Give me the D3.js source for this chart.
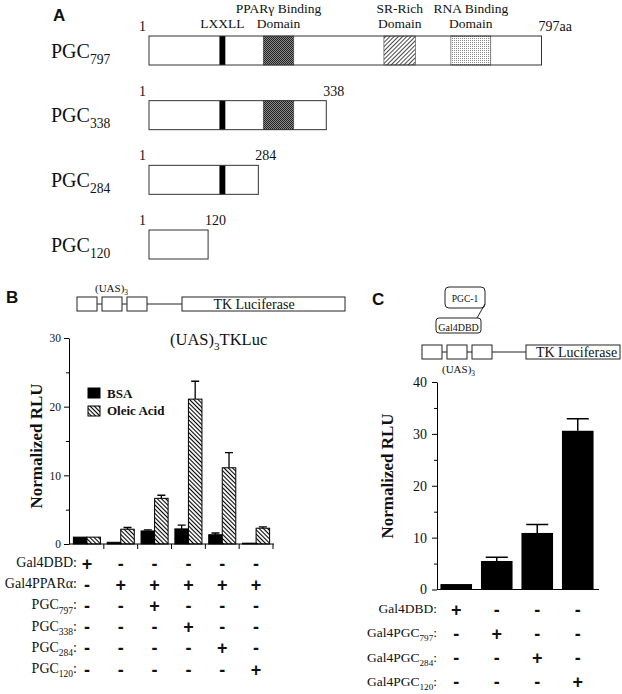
<!DOCTYPE html>
<html>
<head>
<meta charset="utf-8">
<script src="https://cdn.jsdelivr.net/npm/d3@7"></script>
<style>
body { margin: 0; background: #fff; }
svg { display: block; }
text { font-family: "Liberation Serif", "Times New Roman", serif; fill: #111; }
.panel { font-family: "Liberation Sans", Arial, sans-serif; font-weight: bold; font-size: 17px; }
.sign { font-family: "Liberation Sans", Arial, sans-serif; font-weight: bold; }
</style>
</head>
<body>
<div id="chart"></div>
<script>
// ---- panel A: PGC-1 deletion constructs ----
var constructSub = ["797", "338", "284", "120"]
var constructLength = [797, 338, 284, 120]
var constructDrawnEnd = [797, 360, 222, 120]   // the schematic is not drawn to scale
var domainLabels = [["LXXLL"], ["PPARγ Binding", "Domain"], ["SR-Rich", "Domain"], ["RNA Binding", "Domain"]]
var domainStart = [143, 232, 477, 613]
var domainEnd = [155, 294, 541, 694]

// ---- panel B: Gal4PPARa + PGC constructs ----
var bsaMean = [1.0, 0.25, 1.9, 2.2, 1.35, 0.12]
var bsaErr = [0, 0, 0.15, 0.55, 0.25, 0]
var oleicMean = [1.0, 2.15, 6.65, 21.1, 11.1, 2.3]
var oleicErr = [0, 0.25, 0.45, 2.6, 2.2, 0.2]
var bTicks = [0, 10, 20, 30]
var bMinor = [5, 15, 25]
var bRows = [[["Gal4DBD:"]], [["Gal4PPARα:"]],
  [["PGC"], ["797", 1], [":"]], [["PGC"], ["338", 1], [":"]],
  [["PGC"], ["284", 1], [":"]], [["PGC"], ["120", 1], [":"]]]
var bSigns = [
  [1, 0, 0, 0, 0, 0],
  [0, 1, 1, 1, 1, 1],
  [0, 0, 1, 0, 0, 0],
  [0, 0, 0, 1, 0, 0],
  [0, 0, 0, 0, 1, 0],
  [0, 0, 0, 0, 0, 1]]

// ---- panel C: Gal4-PGC fusions ----
var cMean = [1.05, 5.5, 10.9, 30.6]
var cErr = [0, 0.7, 1.65, 2.3]
var cTicks = [0, 10, 20, 30, 40]
var cMinor = [5, 15, 25, 35]
var cRows = [[["Gal4DBD:"]], [["Gal4PGC"], ["797", 1], [":"]],
  [["Gal4PGC"], ["284", 1], [":"]], [["Gal4PGC"], ["120", 1], [":"]]]
var cSigns = [
  [1, 0, 0, 0],
  [0, 1, 0, 0],
  [0, 0, 1, 0],
  [0, 0, 0, 1]]

var width = 622, height = 694

var svg = d3.select("#chart").append("svg")
  .attr("width", width)
  .attr("height", height)
svg.append("rect").attr("width", width).attr("height", height).attr("fill", "#fff")

// patterns
var defs = svg.append("defs")
function hatch(id, angle, gap, color, sw) {
  var p = defs.append("pattern").attr("id", id)
    .attr("patternUnits", "userSpaceOnUse")
    .attr("width", gap).attr("height", gap)
    .attr("patternTransform", "rotate(" + angle + ")")
  p.append("rect").attr("width", gap).attr("height", gap).attr("fill", "#fff")
  p.append("line").attr("x1", gap / 2).attr("x2", gap / 2).attr("y1", 0).attr("y2", gap)
    .attr("stroke", color).attr("stroke-width", sw)
}
hatch("hatchB", -45, 3, "#000", 1.1)
hatch("hatchSR", 45, 3, "#333", 0.9)

var dark = defs.append("pattern").attr("id", "dotsDark")
  .attr("patternUnits", "userSpaceOnUse").attr("width", 2).attr("height", 2)
dark.append("rect").attr("width", 2).attr("height", 2).attr("fill", "#8a8a8a")
dark.append("rect").attr("width", 1).attr("height", 1).attr("fill", "#222")
dark.append("rect").attr("x", 1).attr("y", 1).attr("width", 1).attr("height", 1).attr("fill", "#222")

var light = defs.append("pattern").attr("id", "dotsLight")
  .attr("patternUnits", "userSpaceOnUse").attr("width", 2).attr("height", 2)
light.append("rect").attr("width", 2).attr("height", 2).attr("fill", "#fff")
light.append("rect").attr("width", 1).attr("height", 1).attr("fill", "#8a8a8a")

var domainFill = ["#000", "url(#dotsDark)", "url(#hatchSR)", "url(#dotsLight)"]

// text with subscripts: parts = [[text, isSub], ...]
function rich(sel, parts, size) {
  var shift = 0
  parts.forEach(function (p) {
    var t = sel.append("tspan").text(p[0])
    var want = p[1] ? size * 0.3 : 0
    if (want !== shift) t.attr("dy", want - shift)
    shift = want
    if (p[1]) t.attr("font-size", size * 0.68)
  })
}

// panel letters
svg.append("text").attr("class", "panel").attr("x", 53).attr("y", 21).text("A")
svg.append("text").attr("class", "panel").attr("x", 6).attr("y", 303).text("B")
svg.append("text").attr("class", "panel").attr("x", 372).attr("y", 305).text("C")

// ================= panel A =================
var xA = d3.scaleLinear().domain([0, 797]).range([149, 541.5])
var yA = d3.scalePoint().domain(d3.range(4)).range([36, 230])
var boxH = 29

var gA = svg.append("g")

domainLabels.forEach(function (lines, j) {
  var cx = xA((domainStart[j] + domainEnd[j]) / 2)
  lines.forEach(function (line, k) {
    gA.append("text")
      .attr("x", cx)
      .attr("y", lines.length == 1 ? 28 : 13 + k * 15)
      .attr("text-anchor", "middle")
      .attr("font-size", 13.5)
      .text(line)
  })
})

constructSub.forEach(function (sub, i) {
  var y = yA(i)
  var x0 = xA(0), x1 = xA(constructDrawnEnd[i])
  gA.append("rect")
    .attr("x", x0).attr("y", y)
    .attr("width", x1 - x0).attr("height", boxH)
    .attr("fill", "#fff")
  domainStart.forEach(function (s, j) {
    if (domainEnd[j] > constructLength[i]) return
    gA.append("rect")
      .attr("x", xA(s)).attr("y", y)
      .attr("width", xA(domainEnd[j]) - xA(s)).attr("height", boxH)
      .attr("fill", domainFill[j])
      .attr("stroke", j == 0 ? "none" : "#444")
      .attr("stroke-width", 0.6)
  })
  gA.append("rect")
    .attr("x", x0).attr("y", y)
    .attr("width", x1 - x0).attr("height", boxH)
    .attr("fill", "none")
    .attr("stroke", "#333")
    .attr("stroke-width", 1)

  gA.append("text").attr("x", x0 - 3).attr("y", y - 5)
    .attr("text-anchor", "end").attr("font-size", 14).text("1")
  gA.append("text").attr("x", x1 - 3).attr("y", y - 5)
    .attr("font-size", 14).text(constructLength[i] + (i == 0 ? "aa" : ""))

  var lab = gA.append("text").attr("x", 51).attr("y", y + 21.5).attr("font-size", 20)
  rich(lab, [["PGC"], [sub, 1]], 20)
})

// ================= panel B =================
// reporter diagram
var uasW = 20, uasGap = 5, uasY = 297, uasH = 14
var gBd = svg.append("g")
d3.range(3).forEach(function (k) {
  var x = 77 + k * (uasW + uasGap)
  gBd.append("rect").attr("x", x).attr("y", uasY).attr("width", uasW).attr("height", uasH)
    .attr("fill", "#fff").attr("stroke", "#222")
  if (k < 2) gBd.append("line").attr("x1", x + uasW).attr("x2", x + uasW + uasGap)
    .attr("y1", uasY + uasH / 2).attr("y2", uasY + uasH / 2).attr("stroke", "#222")
})
gBd.append("line").attr("x1", 147).attr("x2", 182).attr("y1", uasY + uasH / 2).attr("y2", uasY + uasH / 2).attr("stroke", "#222")
gBd.append("rect").attr("x", 182).attr("y", uasY).attr("width", 163).attr("height", uasH)
  .attr("fill", "#fff").attr("stroke", "#222")
gBd.append("text").attr("x", 254).attr("y", 308.5).attr("text-anchor", "middle").attr("font-size", 14).text("TK Luciferase")
rich(gBd.append("text").attr("x", 95).attr("y", 292).attr("font-size", 11), [["(UAS)"], ["3", 1]], 11)
rich(gBd.append("text").attr("x", 170).attr("y", 345).attr("font-size", 16.5), [["(UAS)"], ["3", 1], ["TKLuc"]], 16.5)

// chart
var yB = d3.scaleLinear().domain([0, 30]).range([544, 338])
var x0B = d3.scaleBand().domain(d3.range(6)).range([70, 273]).paddingInner(0.2).paddingOuter(0.1)
var x1B = d3.scaleBand().domain(["bsa", "oleic"]).range([0, x0B.bandwidth()])
var gB = svg.append("g")

var bData = []
bsaMean.forEach(function (v, i) {
  bData.push({ g: i, k: "bsa", v: v, e: bsaErr[i] })
  bData.push({ g: i, k: "oleic", v: oleicMean[i], e: oleicErr[i] })
})

gB.selectAll("rect.bar").data(bData).enter().append("rect")
  .attr("class", "bar")
  .attr("x", function (d) { return x0B(d.g) + x1B(d.k) })
  .attr("y", function (d) { return yB(d.v) })
  .attr("width", x1B.bandwidth())
  .attr("height", function (d) { return yB(0) - yB(d.v) })
  .attr("fill", function (d) { return d.k == "bsa" ? "#000" : "url(#hatchB)" })
  .attr("stroke", "#000")
  .attr("stroke-width", 1)

var bErrData = bData.filter(function (d) { return d.e > 0 })
gB.selectAll("path.err").data(bErrData).enter().append("path")
  .attr("class", "err")
  .attr("d", function (d) {
    var cx = x0B(d.g) + x1B(d.k) + x1B.bandwidth() / 2
    var top = yB(d.v + d.e)
    return "M" + cx + "," + yB(d.v) + "V" + top + "M" + (cx - 4) + "," + top + "H" + (cx + 4)
  })
  .attr("stroke", "#000").attr("stroke-width", 1.3).attr("fill", "none")

var axB = gB.append("g").attr("transform", "translate(69,0)")
  .call(d3.axisLeft(yB).tickValues(bTicks).tickSize(5).tickSizeOuter(0).tickPadding(3))
axB.selectAll("text").attr("font-family", "Liberation Serif").attr("font-size", 11.5).attr("fill", "#111")
gB.append("g").attr("transform", "translate(69,0)")
  .call(d3.axisLeft(yB).tickValues(bMinor).tickSize(3).tickSizeOuter(0).tickFormat(""))
  .select(".domain").remove()

// x axis with boundary ticks
gB.append("line").attr("x1", 69).attr("x2", 274).attr("y1", yB(0)).attr("y2", yB(0)).attr("stroke", "#000")
d3.range(1, 7).forEach(function (i) {
  var x = x0B.range()[0] + i * x0B.step()
  gB.append("line").attr("x1", x).attr("x2", x).attr("y1", yB(0)).attr("y2", yB(0) + 5).attr("stroke", "#000")
})

gB.append("text")
  .attr("transform", "translate(42," + 446 + ") rotate(-90)")
  .attr("text-anchor", "middle").attr("font-size", 17).attr("font-weight", "bold")
  .text("Normalized RLU")

// legend
var legB = [["BSA", "#000"], ["Oleic Acid", "url(#hatchB)"]]
legB.forEach(function (l, i) {
  gB.append("rect").attr("x", 88).attr("y", 388 + i * 18).attr("width", 12).attr("height", 10)
    .attr("fill", l[1]).attr("stroke", "#000")
  gB.append("text").attr("x", 107).attr("y", 397.5 + i * 17).attr("font-size", 13)
    .attr("font-weight", "bold").text(l[0])
})

// condition table
bRows.forEach(function (parts, r) {
  var y = 567 + r * 21.2
  rich(gB.append("text").attr("x", 77).attr("y", y).attr("text-anchor", "end").attr("font-size", 14), parts, 14)
  bSigns[r].forEach(function (s, c) {
    gB.append("text").attr("class", "sign")
      .attr("x", x0B(c) + x0B.bandwidth() / 2).attr("y", y + 2.5)
      .attr("text-anchor", "middle").attr("font-size", 18)
      .text(s ? "+" : "-")
  })
})

// ================= panel C =================
var gCd = svg.append("g")
gCd.append("rect").attr("x", 445).attr("y", 287).attr("width", 40).attr("height", 21).attr("rx", 4)
  .attr("fill", "#fff").attr("stroke", "#222")
gCd.append("line").attr("x1", 485).attr("y1", 304).attr("x2", 477).attr("y2", 318).attr("stroke", "#222")
gCd.append("text").attr("x", 465).attr("y", 301.5).attr("text-anchor", "middle").attr("font-size", 9.5).text("PGC-1")
gCd.append("rect").attr("x", 436).attr("y", 318).attr("width", 45).attr("height", 15).attr("rx", 3)
  .attr("fill", "#fff").attr("stroke", "#222")
gCd.append("text").attr("x", 458.5).attr("y", 330.5).attr("text-anchor", "middle").attr("font-size", 10).text("Gal4DBD")

var cuY = 345
d3.range(3).forEach(function (k) {
  var x = 422 + k * (uasW + uasGap)
  gCd.append("rect").attr("x", x).attr("y", cuY).attr("width", uasW).attr("height", uasH)
    .attr("fill", "#fff").attr("stroke", "#222")
  if (k < 2) gCd.append("line").attr("x1", x + uasW).attr("x2", x + uasW + uasGap)
    .attr("y1", cuY + uasH / 2).attr("y2", cuY + uasH / 2).attr("stroke", "#222")
})
gCd.append("line").attr("x1", 492).attr("x2", 526).attr("y1", cuY + uasH / 2).attr("y2", cuY + uasH / 2).attr("stroke", "#222")
gCd.append("rect").attr("x", 526).attr("y", cuY).attr("width", 94).attr("height", uasH)
  .attr("fill", "#fff").attr("stroke", "#222")
gCd.append("text").attr("x", 576.5).attr("y", 357).attr("text-anchor", "middle").attr("font-size", 14).text("TK Luciferase")
rich(gCd.append("text").attr("x", 442).attr("y", 373).attr("font-size", 11), [["(UAS)"], ["3", 1]], 11)

var yC = d3.scaleLinear().domain([0, 40]).range([589.5, 382])
var xC = d3.scaleBand().domain(d3.range(4)).range([436, 598]).paddingInner(0.22).paddingOuter(0.11)
var gC = svg.append("g")

gC.selectAll("rect.bar").data(cMean).enter().append("rect")
  .attr("class", "bar")
  .attr("x", function (d, i) { return xC(i) })
  .attr("y", function (d) { return yC(d) })
  .attr("width", xC.bandwidth())
  .attr("height", function (d) { return yC(0) - yC(d) })
  .attr("fill", "#000")

gC.selectAll("path.err").data(cMean).enter().append("path")
  .attr("class", "err")
  .attr("d", function (d, i) {
    if (!cErr[i]) return null
    var cx = xC(i) + xC.bandwidth() / 2
    var top = yC(d + cErr[i])
    return "M" + cx + "," + yC(d) + "V" + top + "M" + (cx - 11) + "," + top + "H" + (cx + 11)
  })
  .attr("stroke", "#000").attr("stroke-width", 1.5).attr("fill", "none")

var axC = gC.append("g").attr("transform", "translate(437,0)")
  .call(d3.axisLeft(yC).tickValues(cTicks).tickSize(5).tickSizeOuter(0).tickPadding(5))
axC.selectAll("text").attr("font-family", "Liberation Serif").attr("font-size", 14).attr("fill", "#111")
gC.append("g").attr("transform", "translate(437,0)")
  .call(d3.axisLeft(yC).tickValues(cMinor).tickSize(3).tickSizeOuter(0).tickFormat(""))
  .select(".domain").remove()
gC.append("line").attr("x1", 437).attr("x2", 599).attr("y1", yC(0)).attr("y2", yC(0)).attr("stroke", "#000")

gC.append("text")
  .attr("transform", "translate(393," + 476 + ") rotate(-90)")
  .attr("text-anchor", "middle").attr("font-size", 17).attr("font-weight", "bold")
  .text("Normalized RLU")

cRows.forEach(function (parts, r) {
  var y = 613 + r * 24.3
  rich(gC.append("text").attr("x", 437).attr("y", y).attr("text-anchor", "end").attr("font-size", 13.5), parts, 13.5)
  cSigns[r].forEach(function (s, c) {
    gC.append("text").attr("class", "sign")
      .attr("x", xC(c) + xC.bandwidth() / 2).attr("y", y + 2.5)
      .attr("text-anchor", "middle").attr("font-size", 18)
      .text(s ? "+" : "-")
  })
})
</script>
</body>
</html>
